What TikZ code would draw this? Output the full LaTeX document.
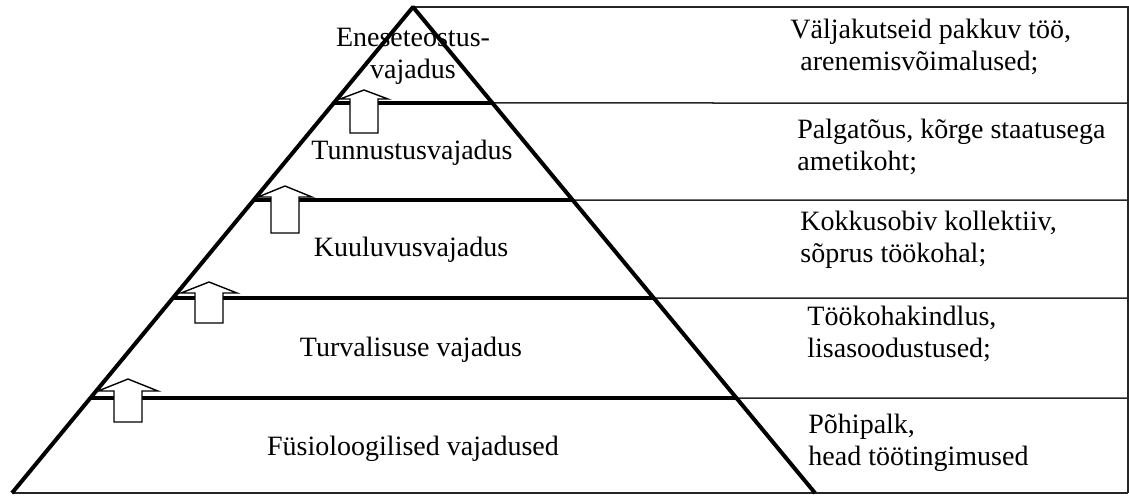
\documentclass[tikz,border=0pt]{standalone}
\usepackage{fontspec}
\setmainfont{Liberation Serif}
\usetikzlibrary{calc}
% block arrow: (centre x, tip y)(head base y, shaft bottom y, head half width)
\def\blockarrow(#1,#2)(#3,#4,#5){\draw[arrowbox] (#1-14, #4) -- (#1-14, #3) -- (#1-#5, #3) -- (#1, #2) -- (#1+#5, #3) -- (#1+14, #3) -- (#1+14, #4) -- cycle;}

\begin{document}
\begin{tikzpicture}[x=0.5pt, y=-0.5pt,
    edge/.style={line width=2pt, line join=bevel},
    rule/.style={line width=0.75pt, color=black!85},
    arrowbox/.style={line width=0.7pt, fill=white},
    label/.style={inner sep=0pt, font=\fontsize{14}{16}\selectfont}]
			%%%%% START %%%%%
			\useasboundingbox (0,0) rectangle (1129,495);
			
			\coordinate (apex) at (413, 7);
			\coordinate (bl) at (12, 493);
			\coordinate (br) at (815, 493);
			
			% table on the right
			\draw[rule] (apex) -- (1128, 7) -- (1128, 493);
			\draw[rule] (bl) -- (1128, 493);
			
			% levels of the pyramid
			\foreach \t/\y in {0.1975/103, 0.3971/200, 0.5988/298, 0.8045/398}{
				\draw[edge] ($(apex)!\t!(bl)$) -- ($(apex)!\t!(br)$);
				\draw[rule] ($(apex)!\t!(br)$) -- (1128, \y);
			}
			\draw[edge] (bl) -- (apex) -- (br);
			
			\blockarrow(364, 90)(99, 133, 24)
			\blockarrow(285, 186)(197, 233, 27)
			\blockarrow(209, 282)(293, 323, 28)
			\blockarrow(128, 379)(391, 422, 30)
			
			\node[label, align=center] (selfreal) at (413, 56) {Eneseteostus-\\vajadus};
			\node[label] (esteem) at (412, 153) {Tunnustusvajadus};
			\node[label] (belong) at (411, 250) {Kuuluvusvajadus};
			\node[label] (safety) at (411, 350) {Turvalisuse vajadus};
			\node[label] (physio) at (413, 449) {Füsioloogilised vajadused};
			
			\node[label, align=left, anchor=west] (selfrealex) at (790, 46.5) {Väljakutseid pakkuv töö,\\\hspace*{5pt}arenemisvõimalused;};
			\node[label, align=left, anchor=west] (esteemex) at (797, 146.5) {Palgatõus, kõrge staatusega\\ametikoht;};
			\node[label, align=left, anchor=west] (belongex) at (800, 240) {Kokkusobiv kollektiiv,\\sõprus töökohal;};
			\node[label, align=left, anchor=west] (safetyex) at (807, 334) {Töökohakindlus,\\lisasoodustused;};
			\node[label, align=left, anchor=west] (physioex) at (808, 443) {Põhipalk,\\head töötingimused};
			%%%%% END %%%%%
		\end{tikzpicture}
\end{document}
